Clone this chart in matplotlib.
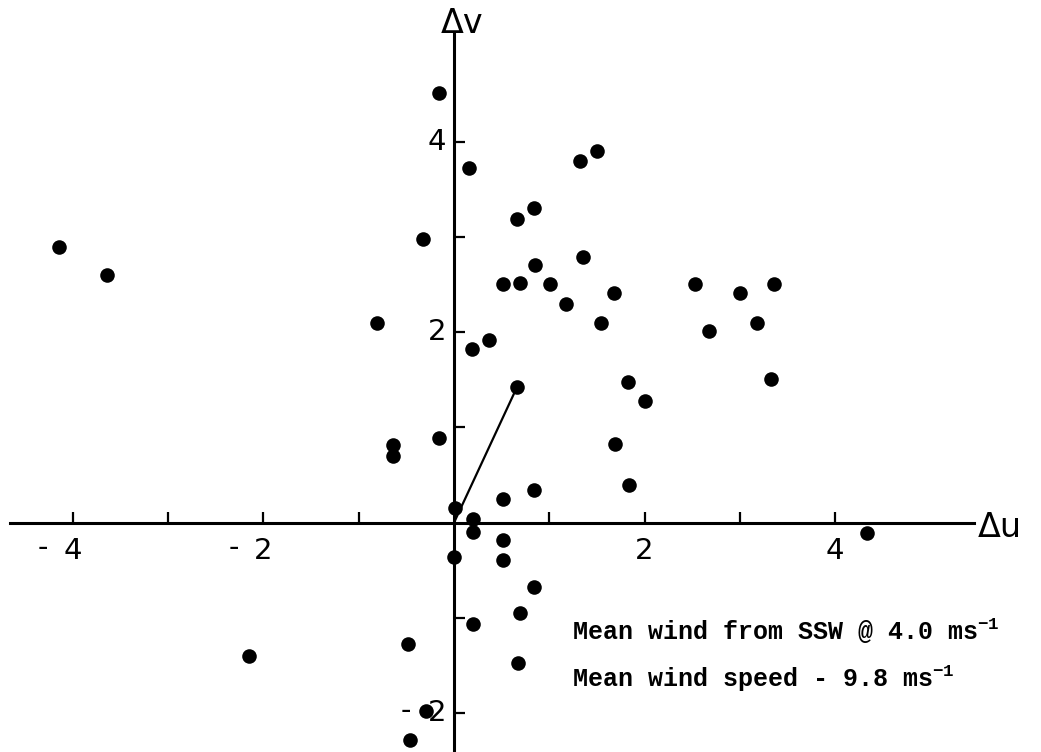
import matplotlib
matplotlib.use("Agg")
import matplotlib.pyplot as plt

plt.rcParams['mathtext.fontset'] = 'custom'
plt.rcParams['mathtext.rm'] = 'Liberation Mono:bold'
plt.rcParams['mathtext.default'] = 'rm'

# wind perturbations (m/s)
du = [-4.15, -3.64, -0.16, 0.16, -0.32, -0.81, -0.64, -0.64, -0.16, 0.19,
      0.37, 0.01, 0.66, 0.84, 0.51, 0.69, 0.85, 1.01, 1.18, 1.32,
      1.50, 1.35, 1.68, 1.54, 2.53, 3.00, 3.36, 2.68, 3.18, 3.33,
      1.83, 2.00, 1.69, 1.84, 0.84, 0.51, 0.20, 0.20, 0.51, 0.51,
      0.00, 0.84, 0.69, 0.20, 0.67, -0.48, -2.15, -0.29, -0.46, 4.33]
dv = [2.89, 2.60, 4.51, 3.72, 2.98, 2.10, 0.82, 0.70, 0.89, 1.82,
      1.92, 0.15, 3.19, 3.30, 2.50, 2.52, 2.70, 2.51, 2.29, 3.80,
      3.90, 2.79, 2.41, 2.10, 2.51, 2.41, 2.51, 2.01, 2.10, 1.51,
      1.48, 1.28, 0.83, 0.40, 0.34, 0.25, 0.04, -0.10, -0.18, -0.39,
      -0.36, -0.67, -0.95, -1.06, -1.47, -1.27, -1.40, -1.98, -2.28, -0.11]

# mean wind vector
mean_u = 0.66
mean_v = 1.42

xticks = [-4, -3, -2, -1, 1, 2, 3, 4]
yticks = [-2, -1, 1, 2, 3, 4]
xlabels = {-4: '4', -2: '2', 2: '2', 4: '4'}
ylabels = {-2: '2', 2: '2', 4: '4'}

fig = plt.figure(figsize=(10.41, 7.52), dpi=100)
ax = fig.add_axes([0, 0, 1, 1])
ax.set_xlim(-4.764, 6.160)
ax.set_ylim(-2.406, 5.485)

for s in ['top', 'right']:
    ax.spines[s].set_visible(False)
ax.spines['left'].set_position('zero')
ax.spines['bottom'].set_position('zero')
ax.spines['left'].set_linewidth(2.2)
ax.spines['bottom'].set_linewidth(2.2)
ax.spines['bottom'].set_bounds(-4.66, 5.46)
ax.spines['left'].set_bounds(-2.5, 5.14)

ax.set_xticks(xticks)
ax.set_yticks(yticks)
ax.tick_params(direction='in', length=8, width=1.6, labelbottom=False, labelleft=False)

ax.scatter(du, dv, s=110, color='black', zorder=5, linewidths=0)
ax.plot([0, mean_u], [0, mean_v], color='black', lw=1.6, zorder=4)
ax.scatter([mean_u], [mean_v], s=110, color='black', zorder=5, linewidths=0)

# tick labels
for t, lab in xlabels.items():
    ax.text(t, -0.15, lab, ha='center', va='top', fontsize=21)
    if t < 0:
        ax.annotate('-', xy=(t, -0.15), xytext=(-30, 3), textcoords='offset pixels',
                    ha='center', va='top', fontsize=21)
for t, lab in ylabels.items():
    ax.text(-0.084, t, lab, ha='right', va='center', fontsize=21)
    if t < 0:
        ax.annotate('-', xy=(-0.084, t), xytext=(-40, 2), textcoords='offset pixels',
                    ha='center', va='center', fontsize=21)

ax.text(-0.14, 5.14, '\u0394v', ha='left', va='baseline', fontsize=24)
ax.text(5.50, -0.15, '\u0394u', ha='left', va='baseline', fontsize=24)

ax.text(1.238, -1.231, 'Mean wind from SSW @ 4.0 ms$^{-1}$', fontsize=18,
        family='Liberation Mono', weight='bold', va='baseline')
ax.text(1.238, -1.724, 'Mean wind speed - 9.8 ms$^{-1}$', fontsize=18,
        family='Liberation Mono', weight='bold', va='baseline')

fig.savefig('out.png', dpi=100)
